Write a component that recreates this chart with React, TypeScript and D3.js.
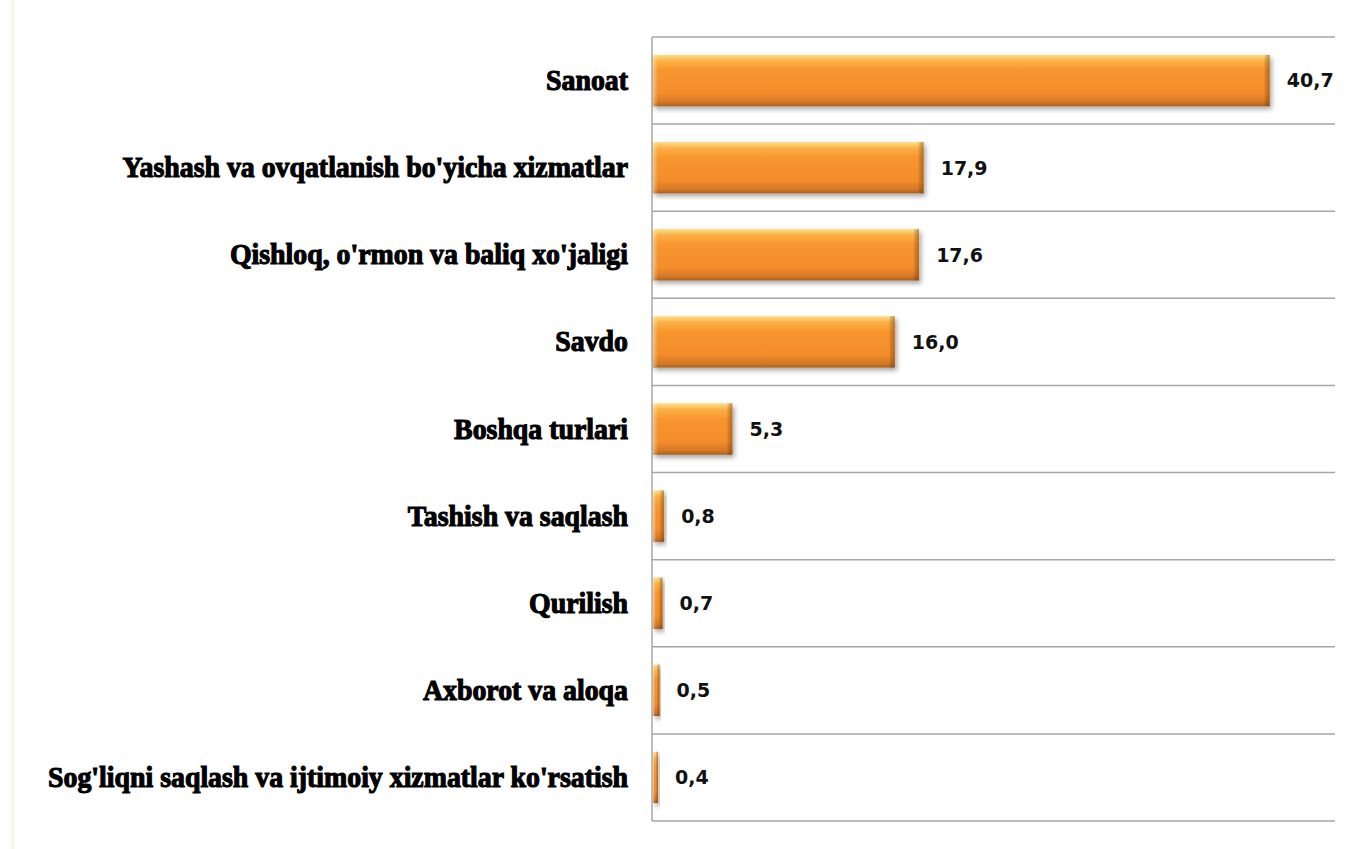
import React from "react";
import * as d3 from "d3";

const categories: string[] = [
  "Sanoat",
  "Yashash va ovqatlanish bo'yicha xizmatlar",
  "Qishloq, o'rmon va baliq xo'jaligi",
  "Savdo",
  "Boshqa turlari",
  "Tashish va saqlash",
  "Qurilish",
  "Axborot va aloqa",
  "Sog'liqni saqlash va ijtimoiy xizmatlar ko'rsatish",
];
const values: number[] = [40.7, 17.9, 17.6, 16.0, 5.3, 0.8, 0.7, 0.5, 0.4];
const xDomain: [number, number] = [0, 45];

const W = 1357;
const H = 849;
const left = 652;
const right = 1335;
const top = 37;
const bottom = 821;

export default function App() {
  const x = d3.scaleLinear().domain(xDomain).range([left, right]);
  const y = d3
    .scaleBand<string>()
    .domain(categories)
    .range([top, bottom])
    .paddingInner(0.41)
    .paddingOuter(0.205);
  const step = y.step();
  const fmt = (v: number) => d3.format(".1f")(v).replace(".", ",");
  const gridYs = d3.range(categories.length + 1).map((i) => top + i * step);

  return (
    <svg
      width={W}
      height={H}
      style={{ position: "absolute", left: 0, top: 0, background: "#fff" }}
    >
      <defs>
        <linearGradient id="barGrad" x1="0" y1="0" x2="0" y2="1">
          <stop offset="0" stopColor="#fde08a" />
          <stop offset="0.12" stopColor="#fbb046" />
          <stop offset="0.3" stopColor="#f8962f" />
          <stop offset="0.75" stopColor="#f38c2b" />
          <stop offset="0.92" stopColor="#d67826" />
          <stop offset="1" stopColor="#a9601f" />
        </linearGradient>
        <linearGradient id="edgeGrad" x1="0" y1="0" x2="1" y2="0">
          <stop offset="0" stopColor="#000" stopOpacity="0" />
          <stop offset="1" stopColor="#7a3d08" stopOpacity="0.45" />
        </linearGradient>
        <linearGradient id="leftGrad" x1="0" y1="0" x2="1" y2="0">
          <stop offset="0" stopColor="#fff3c0" stopOpacity="0.5" />
          <stop offset="1" stopColor="#fff3c0" stopOpacity="0" />
        </linearGradient>
        <filter id="shadow" x="-10%" y="-20%" width="130%" height="160%">
          <feGaussianBlur in="SourceAlpha" stdDeviation="2.5" />
          <feOffset dx="2" dy="3" result="b" />
          <feComponentTransfer>
            <feFuncA type="linear" slope="0.35" />
          </feComponentTransfer>
          <feMerge>
            <feMergeNode />
            <feMergeNode in="SourceGraphic" />
          </feMerge>
        </filter>
      </defs>
      <line x1={13} x2={13} y1={0} y2={H} stroke="#fbf3e6" strokeWidth={3} />
      {gridYs.map((gy, i) => (
        <line
          key={i}
          x1={left}
          x2={right}
          y1={gy}
          y2={gy}
          stroke="#a6a6a6"
          strokeWidth={1.5}
        />
      ))}
      <line x1={left} x2={left} y1={top} y2={bottom} stroke="#a6a6a6" strokeWidth={1.5} />
      {categories.map((c, i) => {
        const by = y(c)!;
        const bw = x(values[i]) - x(0);
        const bh = y.bandwidth();
        const edge = Math.min(6, bw * 0.4);
        return (
          <g key={c}>
            <g filter="url(#shadow)">
              <rect x={x(0) + 1} y={by} width={bw - 1} height={bh} fill="url(#barGrad)" />
            </g>
            <rect
              x={x(0) + 1}
              y={by}
              width={Math.min(5, bw * 0.3)}
              height={bh}
              fill="url(#leftGrad)"
            />
            <rect
              x={x(0) + bw - edge}
              y={by}
              width={edge}
              height={bh}
              fill="url(#edgeGrad)"
            />
            <text
              x={x(values[i]) + 17}
              y={by + bh / 2}
              dy="0.36em"
              fontFamily="DejaVu Sans"
              fontWeight="bold"
              fontSize={19}
              fill="#111"
            >
              {fmt(values[i])}
            </text>
            <g transform={`translate(628, ${by + bh / 2}) scale(0.96, 1)`}>
              <text
                x={0}
                y={0}
                dy="0.33em"
                textAnchor="end"
                fontFamily="Liberation Serif"
                fontWeight="bold"
                fontSize={29}
                fill="#000"
                stroke="#000"
                strokeWidth={1.1}
              >
                {c}
              </text>
            </g>
          </g>
        );
      })}
    </svg>
  );
}
